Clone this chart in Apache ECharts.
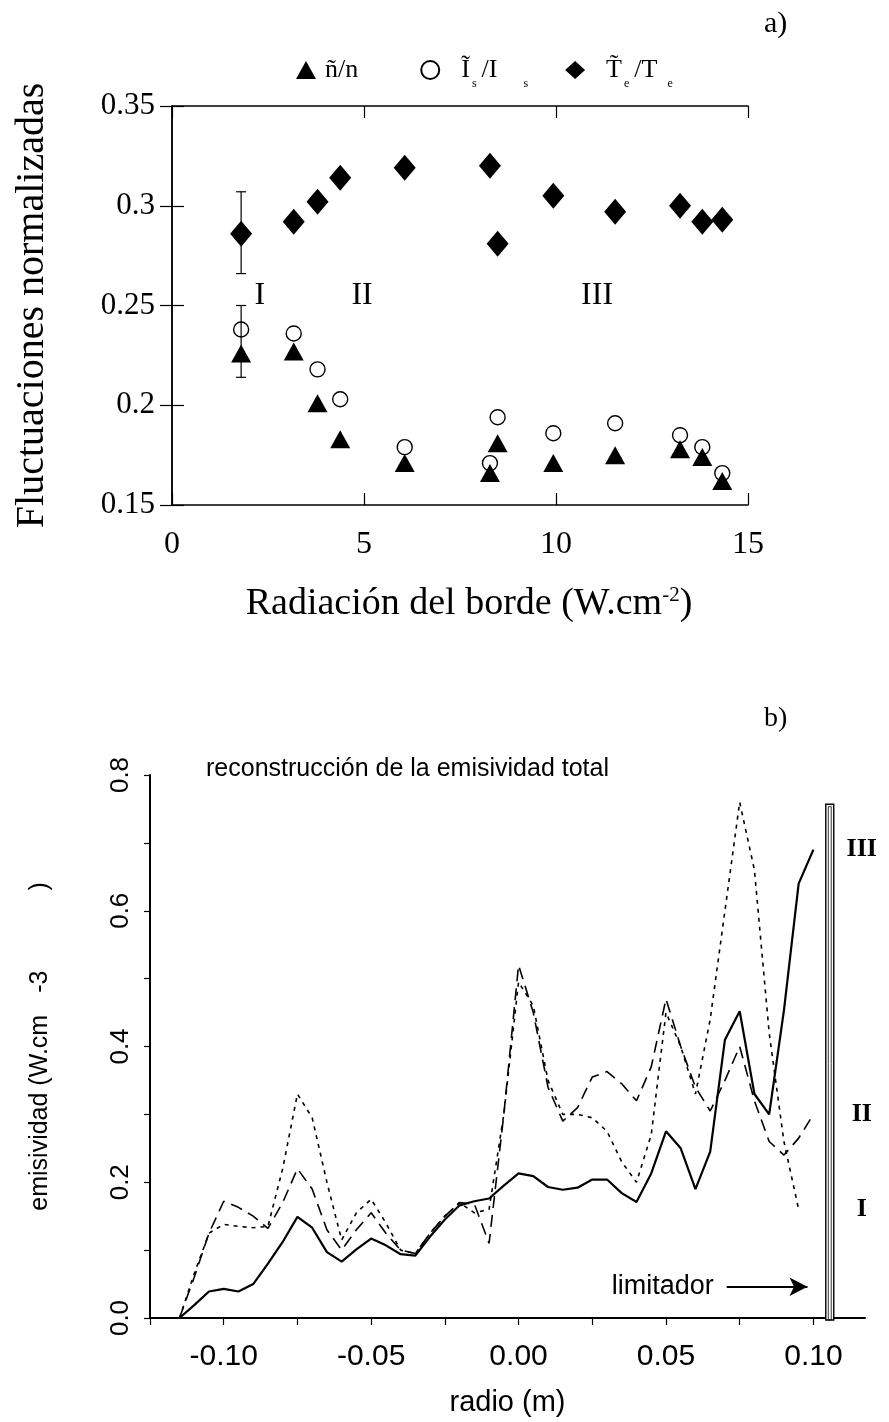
<!DOCTYPE html>
<html>
<head>
<meta charset="utf-8">
<script src="https://cdn.jsdelivr.net/npm/echarts@6/dist/echarts.min.js"></script>
<style>
  html, body { margin: 0; padding: 0; background: #fff; }
  #chart { width: 889px; height: 1422px; }
</style>
</head>
<body>
<div id="chart"></div>
<script>
// ---------- (a) normalised fluctuation levels vs. edge radiation ----------
const radiacion     = [1.8, 3.17, 3.79, 4.38, 6.06, 8.28, 8.48, 9.93, 11.54, 13.23, 13.81, 14.33];
const fluctDensidad = [0.226, 0.227, 0.201, 0.183, 0.171, 0.166, 0.181, 0.171, 0.175, 0.178, 0.174, 0.162];
const fluctIs       = [0.238, 0.236, 0.218, 0.203, 0.179, 0.171, 0.194, 0.186, 0.191, 0.185, 0.179, 0.166];
const fluctTe       = [0.286, 0.292, 0.302, 0.314, 0.319, 0.320, 0.281, 0.305, 0.297, 0.300, 0.292, 0.293];
// error bars: [x, low, high]
const barrasError   = [[1.8, 0.266, 0.307], [1.8, 0.214, 0.250]];
// regime labels
const regiones      = ['I', 'II', 'III'];
const regionX       = [2.29, 4.95, 11.07];
const regionY       = 0.255;
const ticksRadiacion = [0, 5, 10, 15];
const ticksFluct     = [0.15, 0.2, 0.25, 0.3, 0.35];

// ---------- (b) reconstructed total emissivity profiles ----------
const radio = [-0.115, -0.110, -0.105, -0.100, -0.095, -0.090, -0.085, -0.080, -0.075, -0.070,
               -0.065, -0.060, -0.055, -0.050, -0.045, -0.040, -0.035, -0.030, -0.025, -0.020,
               -0.015, -0.010, -0.005, 0.000, 0.005, 0.010, 0.015, 0.020, 0.025, 0.030,
               0.035, 0.040, 0.045, 0.050, 0.055, 0.060, 0.065, 0.070, 0.075, 0.080,
               0.085, 0.090, 0.095, 0.100];
const emisI   = [0, 0.065, 0.125, 0.138, 0.135, 0.133, 0.135, 0.220, 0.330, 0.295,
                 0.200, 0.115, 0.155, 0.175, 0.140, 0.100, 0.095, 0.125, 0.150, 0.170,
                 0.155, 0.160, 0.300, 0.495, 0.460, 0.350, 0.300, 0.300, 0.295, 0.275,
                 0.230, 0.200, 0.270, 0.450, 0.400, 0.330, 0.440, 0.600, 0.760, 0.660,
                 0.420, 0.260, 0.160, null];
const emisII  = [0, 0.060, 0.125, 0.172, 0.163, 0.150, 0.132, 0.170, 0.220, 0.190,
                 0.130, 0.100, 0.130, 0.155, 0.125, 0.100, 0.095, 0.125, 0.150, 0.170,
                 0.168, 0.110, 0.300, 0.520, 0.450, 0.340, 0.290, 0.310, 0.355, 0.363,
                 0.345, 0.320, 0.370, 0.470, 0.400, 0.340, 0.305, 0.350, 0.400, 0.320,
                 0.260, 0.240, 0.265, 0.300];
const emisIII = [0, 0.019, 0.039, 0.043, 0.039, 0.050, 0.080, 0.112, 0.149, 0.133,
                 0.097, 0.083, 0.101, 0.117, 0.107, 0.094, 0.092, 0.120, 0.145, 0.166,
                 0.172, 0.176, 0.195, 0.213, 0.209, 0.193, 0.189, 0.192, 0.204, 0.204,
                 0.184, 0.171, 0.213, 0.275, 0.250, 0.190, 0.245, 0.410, 0.452, 0.330,
                 0.300, 0.453, 0.640, 0.690];
// limiter outline: [x left, x right, top]
const limitador = [0.1042, 0.1069, 0.757];
// profile tags at the right edge, level with each profile's last point
const perfiles  = ['III', 'II', 'I'];
const perfilY   = [0.690, 0.300, 0.160];
const perfilX   = 0.1164;
// "limitador" tag and its arrow
const textoLimitador  = [0.0489, 0.046];
const flechaLimitador = [[0.0706, 0.046], [0.0980, 0.046]];

const SERIF = 'Liberation Serif';
const SANS  = 'Liberation Sans';
const BLACK = '#000';

function toPairs(xs, ys) { return xs.map((x, i) => [x, ys[i]]); }
function isMultiple(v, step) { return Math.abs(Math.round(v / step) * step - v) < 1e-9; }

const chart = echarts.init(document.getElementById('chart'), null, { renderer: 'canvas' });

const boxAxisCommon = {
  axisLine: { show: true, lineStyle: { color: BLACK, width: 1.5 } },
  axisTick: { show: true, inside: true, length: 12, lineStyle: { color: BLACK, width: 1.2 } },
  splitLine: { show: false }
};
const plainLabel = { textBorderWidth: 0, textBorderColor: 'transparent', textShadowBlur: 0 };

const legendMain = { fontFamily: SERIF, fontSize: 26, color: BLACK, lineHeight: 40, verticalAlign: 'middle' };
const legendSub  = { fontFamily: SERIF, fontSize: 12, color: BLACK, lineHeight: 40, verticalAlign: 'bottom' };

const option = {
  backgroundColor: '#fff',
  animation: false,
  title: [
    { text: 'a)', left: 759, top: 4, textStyle: { fontFamily: SERIF, fontSize: 30, fontWeight: 'normal', color: BLACK } },
    { text: 'b)', left: 759, top: 700, textStyle: { fontFamily: SERIF, fontSize: 28, fontWeight: 'normal', color: BLACK } },
    { text: 'reconstrucción de la emisividad total', left: 201, top: 752,
      textStyle: { fontFamily: SANS, fontSize: 25, fontWeight: 'normal', color: BLACK } }
  ],
  legend: {
    top: 52, left: 291, itemGap: 31, itemWidth: 20, itemHeight: 18,
    data: [
      { name: 'n',  icon: 'triangle' },
      { name: 'Is', icon: 'circle' },
      { name: 'Te', icon: 'diamond' }
    ],
    formatter: function (name) {
      return {
        n:  '{a|ñ/n}',
        Is: '{b|Ĩ}{s|s}{c|/I}{s2|s}',
        Te: '{b|T\u0303}{s|e}{c|/T}{s3|e}'
      }[name];
    },
    textStyle: {
      rich: {
        a:  Object.assign({}, legendMain, { padding: [0, 31, 0, 4] }),
        b:  Object.assign({}, legendMain, { padding: [0, 0, 0, 16] }),
        c:  Object.assign({}, legendMain, { padding: [0, 0, 0, 5] }),
        s:  Object.assign({}, legendSub,  { padding: [0, 0, 0, 2] }),
        s2: Object.assign({}, legendSub,  { padding: [0, 6, 0, 26] }),
        s3: Object.assign({}, legendSub,  { padding: [0, 0, 0, 10] })
      }
    }
  },
  grid: [
    { left: 172, top: 106, width: 576, height: 399 },
    { left: 150, top: 775, width: 715, height: 543 }
  ],
  xAxis: [
    Object.assign({}, boxAxisCommon, {
      gridIndex: 0, type: 'value', min: 0, max: 15, interval: 5,
      name: 'Radiación del borde (W.cm{sup|-2})', nameLocation: 'middle', nameGap: 80,
      nameTextStyle: { fontFamily: SERIF, fontSize: 38, color: BLACK, padding: [0, 0, 0, 18],
        rich: { sup: { fontFamily: SERIF, fontSize: 21, color: BLACK, padding: [0, 0, 18, 0] } } },
      axisLabel: { fontFamily: SERIF, fontSize: 32, color: BLACK, margin: 24,
        formatter: v => ticksRadiacion.includes(v) ? String(v) : '' }
    }),
    Object.assign({}, boxAxisCommon, {
      gridIndex: 0, type: 'value', position: 'top', min: 0, max: 15, interval: 5,
      axisLabel: { show: false }
    }),
    {
      gridIndex: 1, type: 'value', min: -0.125, max: 0.1175, interval: 0.025,
      name: 'radio (m)', nameLocation: 'middle', nameGap: 70,
      nameTextStyle: { fontFamily: SANS, fontSize: 29, color: BLACK },
      axisLine: { show: true, onZero: false, lineStyle: { color: BLACK, width: 2 } },
      axisTick: { show: true, inside: false, length: 7, lineStyle: { color: BLACK, width: 1.2 } },
      splitLine: { show: false },
      axisLabel: { fontFamily: SANS, fontSize: 30, color: BLACK, margin: 24, showMaxLabel: false,
        formatter: v => isMultiple(v, 0.05) ? v.toFixed(2) : '' }
    }
  ],
  yAxis: [
    Object.assign({}, boxAxisCommon, {
      gridIndex: 0, type: 'value', min: 0.15, max: 0.35, interval: 0.05,
      name: 'Fluctuaciones normalizadas', nameLocation: 'middle', nameGap: 120,
      nameTextStyle: { fontFamily: SERIF, fontSize: 40, color: BLACK },
      axisLabel: { fontFamily: SERIF, fontSize: 31, color: BLACK, margin: 17,
        formatter: v => { const r = Math.round(v * 100) / 100; return ticksFluct.includes(r) ? String(r) : ''; } }
    }),
    Object.assign({}, boxAxisCommon, {
      gridIndex: 0, type: 'value', position: 'right', min: 0.15, max: 0.35, interval: 0.05,
      axisLabel: { show: false }
    }),
    {
      gridIndex: 1, type: 'value', min: 0, max: 0.8, interval: 0.1,
      name: '{a|emisividad (W.cm}{b|-3}{c|)}', nameLocation: 'middle', nameGap: 97,
      nameTextStyle: { fontFamily: SANS, fontSize: 25, color: BLACK,
        rich: {
          a: { fontFamily: SANS, fontSize: 25, color: BLACK },
          b: { fontFamily: SANS, fontSize: 25, color: BLACK, padding: [0, 0, 0, 22] },
          c: { fontFamily: SANS, fontSize: 25, color: BLACK, padding: [0, 0, 0, 80] }
        } },
      axisLine: { show: true, onZero: false, lineStyle: { color: BLACK, width: 2 } },
      axisTick: { show: true, inside: false, length: 6, lineStyle: { color: BLACK, width: 1.2 } },
      splitLine: { show: false },
      axisLabel: { fontFamily: SANS, fontSize: 26, color: BLACK, rotate: 90, margin: 16,
        formatter: v => isMultiple(v, 0.2) ? v.toFixed(1) : '' }
    }
  ],
  series: [
    // ----- panel (a) -----
    {
      type: 'custom', name: 'errores', xAxisIndex: 0, yAxisIndex: 0, z: 5,
      data: barrasError,
      renderItem: function (params, api) {
        const top = api.coord([api.value(0), api.value(2)]);
        const bot = api.coord([api.value(0), api.value(1)]);
        const cap = 5;
        const st = { stroke: BLACK, lineWidth: 1.2 };
        return { type: 'group', children: [
          { type: 'line', shape: { x1: top[0], y1: top[1], x2: bot[0], y2: bot[1] }, style: st },
          { type: 'line', shape: { x1: top[0] - cap, y1: top[1], x2: top[0] + cap, y2: top[1] }, style: st },
          { type: 'line', shape: { x1: bot[0] - cap, y1: bot[1], x2: bot[0] + cap, y2: bot[1] }, style: st }
        ] };
      }
    },
    {
      type: 'scatter', name: 'n', xAxisIndex: 0, yAxisIndex: 0, z: 4,
      symbol: 'triangle', symbolSize: [20, 18],
      itemStyle: { color: BLACK, opacity: 1 },
      data: toPairs(radiacion, fluctDensidad)
    },
    {
      type: 'scatter', name: 'Is', xAxisIndex: 0, yAxisIndex: 0, z: 4,
      symbol: 'circle', symbolSize: 15,
      itemStyle: { color: 'rgba(255,255,255,0)', borderColor: BLACK, borderWidth: 1.4, opacity: 1 },
      data: toPairs(radiacion, fluctIs)
    },
    {
      type: 'scatter', name: 'Te', xAxisIndex: 0, yAxisIndex: 0, z: 4,
      symbol: 'diamond', symbolSize: [22, 26],
      itemStyle: { color: BLACK, opacity: 1 },
      data: toPairs(radiacion, fluctTe)
    },
    {
      type: 'scatter', name: 'regimen', xAxisIndex: 0, yAxisIndex: 0, symbolSize: 0,
      itemStyle: { color: BLACK, opacity: 1 },
      data: regiones.map((r, i) => ({ name: r, value: [regionX[i], regionY] })),
      label: Object.assign({ show: true, position: 'inside', formatter: '{b}',
        fontFamily: SERIF, fontSize: 32, color: BLACK }, plainLabel)
    },
    // ----- panel (b) -----
    {
      type: 'line', name: 'I', xAxisIndex: 2, yAxisIndex: 2, showSymbol: false, z: 3,
      lineStyle: { color: BLACK, width: 1.6, type: [4, 5] },
      data: toPairs(radio, emisI)
    },
    {
      type: 'line', name: 'II', xAxisIndex: 2, yAxisIndex: 2, showSymbol: false, z: 3,
      lineStyle: { color: BLACK, width: 1.6, type: [12, 7] },
      data: toPairs(radio, emisII)
    },
    {
      type: 'line', name: 'III', xAxisIndex: 2, yAxisIndex: 2, showSymbol: false, z: 4,
      lineStyle: { color: BLACK, width: 2.2, type: 'solid' },
      data: toPairs(radio, emisIII)
    },
    {
      type: 'custom', name: 'limitador', xAxisIndex: 2, yAxisIndex: 2, z: 6, clip: false,
      data: [limitador],
      renderItem: function (params, api) {
        const tl = api.coord([api.value(0), api.value(2)]);
        const br = api.coord([api.value(1), 0]);
        const w = br[0] - tl[0], h = br[1] - tl[1] + 2;
        return { type: 'group', children: [
          { type: 'rect', shape: { x: tl[0], y: tl[1], width: w, height: h },
            style: { fill: '#fff', stroke: BLACK, lineWidth: 1.4 } },
          { type: 'rect', shape: { x: tl[0] + 2.5, y: tl[1] + 2.5, width: w - 5, height: h - 2.5 },
            style: { fill: 'none', stroke: BLACK, lineWidth: 0.8 } }
        ] };
      }
    },
    {
      type: 'scatter', name: 'etiquetas', xAxisIndex: 2, yAxisIndex: 2, symbolSize: 0, z: 7,
      itemStyle: { color: BLACK, opacity: 1 },
      data: perfiles.map((p, i) => ({ name: p, value: [perfilX, perfilY[i]] })),
      label: Object.assign({ show: true, position: 'inside', formatter: '{b}',
        fontFamily: SERIF, fontWeight: 'bold', fontSize: 26, color: BLACK }, plainLabel)
    },
    {
      type: 'scatter', name: 'textoLimitador', xAxisIndex: 2, yAxisIndex: 2, symbolSize: 0, z: 7,
      itemStyle: { color: BLACK, opacity: 1 },
      data: [{ name: 'limitador', value: textoLimitador }],
      label: Object.assign({ show: true, position: 'inside', formatter: '{b}',
        fontFamily: SANS, fontSize: 27, color: BLACK }, plainLabel),
      markLine: {
        silent: true, symbol: ['none', 'arrow'], symbolSize: [14, 18],
        lineStyle: { color: BLACK, width: 2, type: 'solid' },
        label: { show: false },
        data: [[{ coord: flechaLimitador[0] }, { coord: flechaLimitador[1] }]]
      }
    }
  ]
};

chart.setOption(option);
</script>
</body>
</html>
